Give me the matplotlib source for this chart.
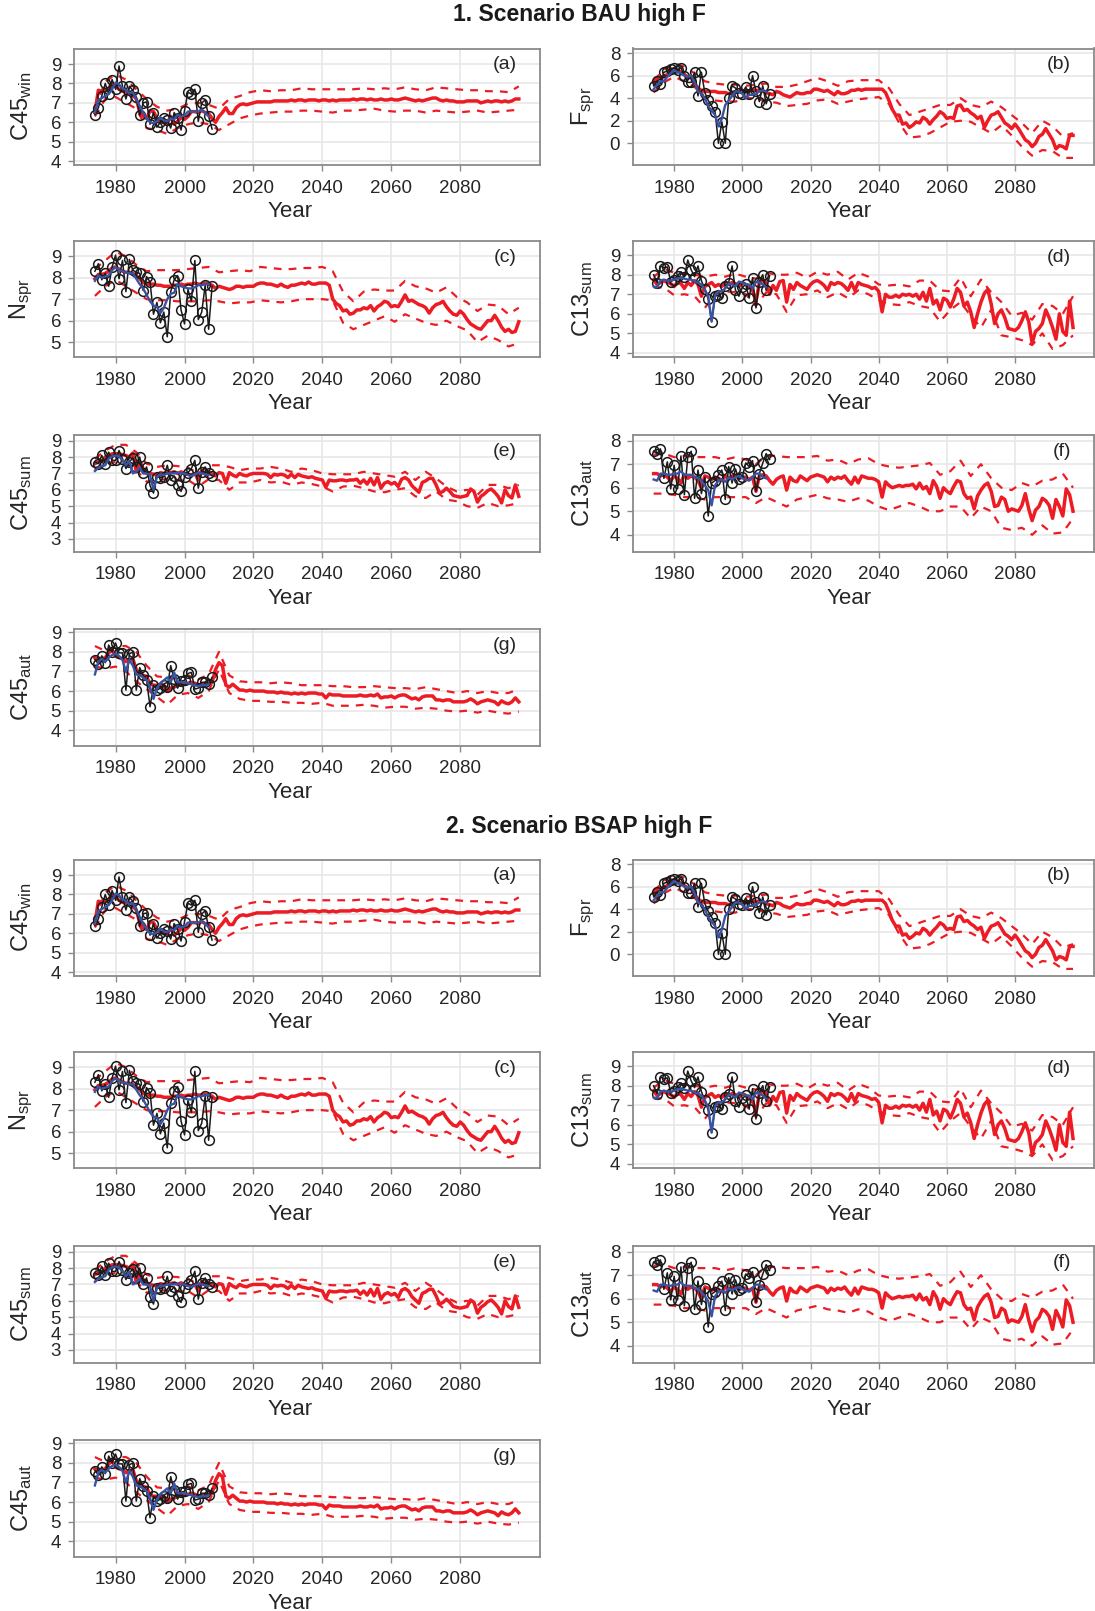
import numpy as np
import matplotlib
matplotlib.use("Agg")
import matplotlib.pyplot as plt

plt.rcParams['font.family'] = ['Liberation Sans', 'DejaVu Sans']
plt.rcParams['mathtext.fontset'] = 'custom'
plt.rcParams['mathtext.rm'] = 'Liberation Sans'
plt.rcParams['mathtext.it'] = 'Liberation Sans:italic'

# ---------------------------------------------------------------- data
FIRST_YEAR = 1974
BAND_STEP = 3
x_ticks = [1980, 2000, 2020, 2040, 2060, 2080]
scenario_titles = ["1. Scenario BAU high F", "2. Scenario BSAP high F"]

# (a) C45 winter
a_obs = [6.4, 6.75, 7.35, 8.0, 7.45, 8.2, 7.7, 8.9, 7.85, 7.2, 7.85, 7.65, 7.3, 6.35, 7.0,
         7.05, 5.9, 6.5, 5.75, 6.0, 6.2, 6.1, 5.7, 6.5, 6.2, 5.6, 6.6, 7.55, 7.45, 7.7,
         6.05, 7.0, 7.15, 6.3, 5.65]
a_fit = [6.5, 7.15, 7.25, 7.35, 7.45, 7.7, 8.05, 7.95, 7.75, 7.65, 7.5, 7.55, 7.2, 6.85,
         6.5, 6.2, 6.0, 5.95, 6.05, 6.25, 6.1, 6.05, 6.2, 6.15, 6.4, 6.3, 6.35, 6.55, 6.55,
         6.55, 6.55, 6.65, 6.5, 6.3]
a_med = [6.5, 7.65, 7.6, 7.65, 7.75, 8.0, 7.85, 7.7, 7.6, 7.55,
         7.5, 7.4, 7.2, 6.55, 6.3, 6.2, 6.6, 6.55, 6.2, 6.05,
         6.0, 5.95, 6.3, 5.9, 6.05, 6.25, 6.15, 6.3, 6.55, 6.55,
         6.5, 6.6, 6.5, 6.45, 6.2, 6.0, 6.3, 6.5, 6.75, 6.45,
         6.45, 6.75, 6.9, 6.95, 6.9, 6.95, 7.0, 7.05, 7.05, 7.05,
         7.05, 7.05, 7.1, 7.1, 7.1, 7.1, 7.1, 7.15, 7.1, 7.15,
         7.15, 7.1, 7.15, 7.15, 7.15, 7.1, 7.15, 7.15, 7.1, 7.15,
         7.1, 7.15, 7.15, 7.15, 7.15, 7.2, 7.15, 7.2, 7.2, 7.15,
         7.2, 7.15, 7.15, 7.2, 7.15, 7.15, 7.2, 7.15, 7.15, 7.2,
         7.25, 7.2, 7.15, 7.1, 7.15, 7.1, 7.15, 7.2, 7.25, 7.25,
         7.15, 7.1, 7.15, 7.1, 7.1, 7.05, 7.05, 7.05, 7.1, 7.1,
         7.1, 7.1, 7.0, 7.05, 7.1, 7.05, 7.1, 7.1, 7.05, 7.1,
         7.05, 7.1, 7.2, 7.2]
a_hi = [6.7, 8.1, 8.45, 8.2, 7.7, 7.2, 6.8, 6.6, 6.7, 6.95, 7.0, 6.9, 6.7, 7.2, 7.35,
        7.55, 7.65, 7.6, 7.65, 7.65, 7.75, 7.7, 7.7, 7.7, 7.7, 7.7, 7.75, 7.7, 7.75, 7.7,
        7.8, 7.7, 7.65, 7.8, 7.75, 7.7, 7.65, 7.65, 7.6, 7.6, 7.55, 7.85]
a_lo = [6.3, 7.2, 7.3, 7.0, 6.7, 5.7, 5.6, 5.4, 5.7, 5.9, 6.0, 5.9, 5.6, 5.9, 6.2, 6.35,
        6.45, 6.5, 6.55, 6.55, 6.6, 6.6, 6.55, 6.5, 6.6, 6.6, 6.65, 6.7, 6.6, 6.55, 6.6,
        6.6, 6.5, 6.6, 6.55, 6.5, 6.55, 6.6, 6.5, 6.55, 6.6, 6.65]

# (b) F spring
b_obs = [5.1, 5.5, 5.3, 6.3, 6.4, 6.6, 6.7, 6.5, 6.7, 6.0, 5.4, 5.4, 6.3, 4.2, 6.3, 4.5,
         3.8, 3.3, 2.8, 0.0, 1.9, 0.0, 4.0, 5.1, 4.9, 4.5, 4.4, 5.0, 4.4, 6.0, 4.6, 3.7,
         5.1, 3.5, 4.4]
b_fit = [4.8, 5.2, 5.5, 5.5, 5.9, 6.2, 6.5, 6.3, 6.2, 6.0, 5.9, 6.0, 5.4, 4.6, 4.4, 4.0,
         3.3, 2.9, 2.5, 1.5, 2.2, 3.4, 3.8, 4.2, 4.6, 4.6, 4.4, 4.0, 4.3, 4.3, 4.4, 4.6,
         4.7, 4.6]
b_med = [5.4, 5.8, 5.8, 5.9, 6.1, 6.4, 6.6, 6.5, 6.3, 6.1,
         5.9, 5.8, 5.3, 4.9, 4.7, 4.6, 4.6, 4.6, 4.6, 4.5,
         4.5, 4.5, 4.4, 4.4, 4.5, 4.6, 4.6, 4.7, 4.6, 4.7,
         4.7, 4.7, 4.6, 4.5, 4.4, 4.3, 4.6, 4.5, 4.3, 4.2,
         4.1, 4.3, 4.5, 4.4, 4.4, 4.5, 4.5, 4.8, 4.8, 4.7,
         4.6, 4.7, 4.5, 4.3, 4.6, 4.4, 4.4, 4.5, 4.7, 4.7,
         4.8, 4.7, 4.8, 4.8, 4.8, 4.8, 4.8, 4.8, 4.5, 3.8,
         3.0, 2.5, 2.5, 1.7, 1.8, 1.4, 1.6, 1.9, 1.8, 2.3,
         2.1, 1.7, 2.1, 2.4, 2.8, 2.6, 2.2, 2.3, 2.2, 3.3,
         3.4, 2.9, 3.0, 2.7, 2.5, 2.2, 2.4, 1.4, 2.0, 2.5,
         2.6, 2.8, 2.3, 1.8, 1.6, 1.3, 1.7, 1.3, 0.8, 0.3,
         0.1, -0.3, 0.0, 0.6, 0.8, 1.3, 0.8, 0.3, -0.5, -0.2,
         -0.3, -0.5, 0.7, 0.7]
b_hi = [5.6, 6.5, 7.1, 6.8, 6.2, 5.5, 5.3, 5.2, 5.2, 5.1, 5.2, 5.3, 5.0, 5.0, 5.2, 5.5,
        5.8, 5.5, 5.1, 5.5, 5.6, 5.6, 5.6, 4.9, 3.5, 2.5, 2.8, 3.1, 3.4, 3.4, 4.0, 3.4,
        3.2, 3.7, 3.2, 2.5, 1.8, 0.9, 2.0, 1.5, 0.6, 0.9]
b_lo = [4.5, 5.4, 5.9, 5.5, 5.0, 4.0, 3.8, 3.7, 3.7, 4.0, 4.0, 3.7, 3.6, 3.3, 3.4, 3.5,
        3.8, 3.9, 3.5, 3.7, 3.9, 4.0, 4.1, 3.5, 1.8, 0.5, 0.6, 0.9, 1.4, 1.9, 2.0, 1.9,
        1.4, 0.9, 1.6, 0.7, -0.3, -1.1, -0.6, -0.7, -1.3, -1.3]

# (c) N spring
c_obs = [8.3, 8.65, 7.9, 8.2, 7.6, 8.5, 9.05, 7.95, 8.8, 7.35, 8.85, 8.35, 8.25, 8.2, 7.4,
         8.05, 7.8, 6.3, 6.85, 5.9, 6.4, 5.25, 7.35, 7.9, 8.1, 6.5, 5.85, 7.45, 6.9, 8.8,
         6.05, 6.4, 7.65, 5.6, 7.6]
c_fit = [7.85, 8.1, 8.0, 8.05, 8.1, 8.35, 8.5, 8.35, 8.3, 8.25, 8.2, 8.2, 7.95, 7.7, 7.5,
         7.2, 6.9, 6.7, 6.65, 6.35, 6.6, 7.0, 7.25, 7.3, 7.7, 7.6, 7.55, 7.5, 7.5, 7.55,
         7.65, 7.65, 7.7, 7.7]
c_med = [7.95, 8.15, 8.15, 8.2, 8.3, 8.45, 8.5, 8.4, 8.3, 8.25,
         8.25, 8.2, 8.1, 7.95, 7.8, 7.7, 7.7, 7.7, 7.65, 7.65,
         7.6, 7.6, 7.6, 7.65, 7.65, 7.7, 7.65, 7.7, 7.7, 7.75,
         7.7, 7.7, 7.75, 7.7, 7.65, 7.5, 7.6, 7.55, 7.5, 7.45,
         7.5, 7.6, 7.6, 7.55, 7.6, 7.6, 7.6, 7.7, 7.75, 7.75,
         7.7, 7.7, 7.65, 7.6, 7.7, 7.6, 7.55, 7.65, 7.65, 7.7,
         7.75, 7.7, 7.8, 7.7, 7.7, 7.75, 7.75, 7.75, 7.65, 7.0,
         6.8, 6.7, 6.45, 6.5, 6.3, 6.35, 6.5, 6.5, 6.6, 6.55,
         6.7, 6.45, 6.65, 6.75, 6.9, 6.85, 6.65, 6.7, 6.65, 6.9,
         7.2, 6.9, 6.95, 6.85, 6.75, 6.7, 6.6, 6.35, 6.6, 6.75,
         6.8, 6.9, 6.65, 6.45, 6.3, 6.25, 6.45, 6.3, 6.05, 5.85,
         5.75, 5.65, 5.6, 5.8, 6.0, 6.0, 6.25, 6.0, 5.7, 5.5,
         5.6, 5.45, 5.5, 5.95]
c_hi = [8.4, 8.8, 9.2, 9.0, 8.6, 8.3, 8.35, 8.35, 8.35, 8.4, 8.45, 8.5, 8.25, 8.3, 8.35,
        8.3, 8.5, 8.45, 8.4, 8.4, 8.45, 8.45, 8.5, 8.3, 7.35, 6.9, 7.35, 7.45, 7.4, 7.4,
        7.85, 7.6, 7.5, 7.3, 7.55, 7.1, 6.85, 6.45, 6.75, 6.7, 6.3, 6.6]
c_lo = [7.15, 7.6, 7.9, 7.6, 7.3, 7.0, 6.95, 6.95, 6.9, 6.9, 6.9, 6.95, 6.9, 6.8, 6.85,
        6.85, 6.95, 6.9, 6.85, 6.9, 7.0, 7.0, 7.0, 6.95, 5.9, 5.6, 5.8, 6.0, 6.2, 5.95,
        6.3, 6.1, 5.9, 5.8, 6.0, 5.75, 5.55, 5.0, 5.3, 5.1, 4.8, 4.95]

# (d) C13 summer
d_obs = [8.0, 7.6, 8.45, 8.35, 8.4, 7.65, 7.75, 7.95, 8.15, 7.9, 8.75, 8.25, 7.9, 8.45,
         7.7, 7.25, 6.75, 5.6, 6.9, 6.95, 6.8, 7.4, 7.6, 8.45, 7.2, 6.9, 7.35, 7.5, 6.8,
         7.85, 6.3, 7.65, 8.0, 7.2, 7.95]
d_fit = [7.4, 7.35, 7.7, 7.75, 7.7, 7.7, 7.75, 7.8, 7.85, 7.8, 7.75, 7.75, 7.65, 7.6, 7.5,
         7.25, 6.9, 5.6, 6.95, 7.15, 7.15, 7.3, 7.55, 7.5, 7.4, 7.65, 7.6, 7.5, 7.5, 7.3,
         7.65, 7.6, 7.5, 7.35]
d_med = [7.75, 7.5, 7.6, 7.7, 7.6, 7.55, 7.4, 7.6, 7.55, 7.3,
         7.6, 7.45, 7.7, 7.5, 6.9, 7.4, 7.5, 7.6, 7.4, 7.5,
         7.4, 7.6, 7.5, 7.6, 7.55, 7.4, 7.6, 7.5, 7.4, 7.2,
         6.6, 7.6, 7.7, 7.6, 7.0, 7.45, 7.2, 7.65, 7.7, 6.6,
         7.5, 7.25, 7.6, 7.45, 7.35, 7.25, 7.5, 7.65, 7.7, 7.6,
         7.45, 7.2, 7.6, 7.5, 7.6, 7.55, 7.4, 7.2, 7.6, 7.2,
         7.6, 7.5, 7.45, 7.4, 7.3, 7.35, 7.15, 6.1, 7.0, 6.85,
         6.85, 6.95, 6.85, 7.0, 6.95, 7.0, 6.9, 7.0, 6.75, 7.1,
         6.65, 7.3, 6.5, 6.7, 6.2, 6.8, 6.7, 6.35, 6.75, 7.3,
         7.1, 6.4, 6.6, 6.1, 5.3, 6.0, 6.6, 7.05, 7.25, 6.5,
         5.5, 6.0, 6.2, 5.8, 5.25, 5.2, 5.15, 5.3, 5.65, 6.1,
         5.6, 4.5, 5.1, 5.25, 5.5, 6.2, 5.8, 5.3, 4.7, 6.0,
         5.1, 4.9, 6.65, 5.3]
d_hi = [7.9, 8.3, 8.1, 8.05, 8.0, 7.9, 8.0, 7.9, 8.05, 7.9, 7.8, 8.1, 8.0, 8.0, 8.1, 7.85,
        8.15, 8.0, 8.15, 7.75, 8.1, 7.9, 7.5, 7.45, 7.5, 7.4, 7.7, 7.7, 7.2, 7.15, 7.85,
        6.9, 7.75, 7.1, 6.6, 5.9, 6.05, 5.7, 6.5, 6.4, 6.0, 6.9]
d_lo = [7.35, 7.35, 6.95, 7.0, 6.9, 6.3, 7.0, 7.15, 7.1, 7.0, 6.4, 7.1, 7.0, 6.1, 6.95,
        7.0, 7.2, 6.85, 7.1, 6.8, 7.2, 7.0, 6.7, 6.5, 6.45, 6.6, 6.4, 6.3, 5.6, 6.2, 6.6,
        5.9, 5.3, 6.2, 4.9, 4.8, 4.65, 4.4, 5.0, 4.2, 4.4, 4.9]

# (e) C45 summer
e_obs = [7.7, 7.6, 8.1, 7.6, 8.3, 7.8, 7.8, 8.4, 7.9, 7.3, 7.7, 7.95, 7.4, 8.0, 7.0, 7.4,
         6.25, 5.8, 6.8, 6.75, 6.8, 7.5, 6.6, 6.85, 6.3, 5.9, 6.8, 7.05, 7.3, 7.8, 6.1,
         7.1, 7.4, 7.0, 6.85]
e_fit = [7.15, 7.35, 7.45, 7.5, 7.9, 8.05, 8.1, 8.05, 7.8, 7.5, 7.75, 7.0, 7.1, 7.35, 7.0,
         7.0, 6.9, 6.0, 6.8, 6.95, 6.9, 7.0, 7.0, 7.0, 7.05, 7.0, 7.0, 6.9, 6.85, 6.95,
         7.05, 7.0, 6.95, 6.9]
e_med = [7.6, 7.7, 7.75, 8.0, 8.1, 8.2, 8.2, 8.2, 8.15, 8.1,
         8.0, 8.25, 7.1, 7.75, 7.3, 7.0, 7.0, 6.95, 6.9, 7.05,
         7.0, 7.1, 7.05, 7.1, 7.0, 7.1, 7.0, 6.95, 6.9, 7.0,
         6.6, 7.15, 7.0, 7.1, 6.95, 6.85, 7.05, 7.0, 6.4, 7.05,
         6.9, 6.8, 7.0, 6.9, 6.85, 6.95, 7.0, 7.0, 7.0, 7.0,
         6.95, 6.75, 6.95, 6.9, 6.95, 6.9, 6.75, 6.95, 6.75, 6.95,
         6.85, 6.8, 6.75, 6.8, 6.7, 6.65, 6.6, 6.15, 6.6, 6.55,
         6.55, 6.6, 6.6, 6.55, 6.6, 6.6, 6.65, 6.4, 6.6, 6.35,
         6.7, 6.3, 6.75, 6.1, 6.4, 6.5, 6.35, 6.45, 6.2, 6.65,
         6.75, 6.6, 6.25, 6.05, 5.85, 6.45, 6.55, 6.7, 6.7, 6.3,
         5.8, 5.9, 6.1, 5.9, 5.65, 5.6, 5.55, 5.6, 5.65, 6.05,
         5.9, 5.25, 5.6, 5.75, 5.95, 6.05, 5.85, 5.6, 5.2, 6.0,
         5.65, 5.5, 6.3, 5.6]
e_hi = [7.9, 8.4, 8.75, 8.75, 8.3, 7.6, 7.4, 7.5, 7.45, 7.35, 7.0, 7.5, 7.5, 7.4, 7.2,
        7.3, 7.3, 7.4, 7.3, 7.1, 7.3, 7.2, 7.0, 6.95, 6.95, 6.95, 7.1, 7.0, 6.9, 6.8, 7.1,
        6.6, 7.1, 6.7, 6.2, 5.9, 6.0, 5.7, 6.3, 6.3, 6.1, 6.3]
e_lo = [7.2, 7.6, 7.7, 7.6, 7.2, 6.5, 6.6, 6.65, 6.6, 6.6, 6.2, 6.65, 6.6, 6.0, 6.45,
        6.45, 6.6, 6.45, 6.5, 6.3, 6.45, 6.35, 6.2, 5.9, 6.2, 6.25, 6.1, 5.9, 5.85, 6.0,
        6.1, 5.6, 5.5, 5.9, 5.4, 5.3, 5.0, 4.9, 5.2, 5.0, 5.05, 5.2]

# (f) C13 autumn
f_obs = [7.55, 7.45, 7.65, 6.4, 7.1, 5.95, 6.95, 5.95, 7.35, 5.7, 7.3, 7.55, 5.55, 6.75,
         5.75, 6.45, 4.8, 6.2, 6.3, 6.55, 6.75, 5.5, 6.9, 6.2, 6.8, 6.35, 6.45, 7.05, 6.9,
         7.15, 5.85, 6.6, 7.05, 7.45, 7.2]
f_fit = [6.35, 6.3, 6.6, 6.6, 6.55, 6.55, 6.6, 6.6, 6.7, 6.55, 6.55, 6.55, 6.45, 6.4, 6.3,
         6.1, 5.9, 5.25, 6.1, 6.3, 6.35, 6.25, 6.45, 6.35, 6.45, 6.5, 6.4, 6.35, 6.3, 6.45,
         6.6, 6.6, 6.45, 6.4]
f_med = [6.6, 6.6, 6.5, 6.55, 6.45, 6.3, 6.5, 6.4, 6.2, 6.55,
         6.4, 6.5, 6.45, 6.3, 6.0, 6.5, 6.45, 6.35, 6.45, 6.4,
         6.3, 6.5, 6.4, 6.5, 6.5, 6.4, 6.45, 6.45, 6.35, 6.45,
         5.85, 6.5, 6.55, 6.5, 6.3, 6.15, 6.35, 6.45, 6.5, 5.9,
         6.45, 6.3, 6.25, 6.5, 6.4, 6.3, 6.45, 6.5, 6.55, 6.5,
         6.45, 6.25, 6.45, 6.35, 6.45, 6.4, 6.5, 6.3, 6.15, 6.45,
         6.2, 6.5, 6.45, 6.4, 6.4, 6.35, 6.25, 5.6, 6.25, 6.1,
         6.0, 6.05, 6.1, 6.05, 6.1, 6.1, 6.15, 5.95, 6.2, 5.95,
         6.05, 5.75, 6.3, 6.05, 5.55, 6.0, 5.85, 5.75, 6.05, 6.3,
         6.25, 5.75, 5.55, 5.6, 5.1, 5.65, 5.9, 6.1, 6.2, 5.85,
         5.2, 5.25, 5.6, 5.5, 5.0, 5.1, 5.05, 5.0, 5.25, 5.75,
         5.1, 4.6, 5.05, 5.2, 5.55, 5.45, 5.25, 4.7, 5.5, 5.2,
         4.8, 5.95, 5.7, 5.0]
f_hi = [7.4, 7.45, 7.3, 7.35, 7.3, 7.3, 7.3, 7.2, 7.3, 7.2, 7.0, 7.35, 7.35, 7.3, 7.3,
        7.3, 7.35, 7.15, 7.2, 7.0, 7.2, 7.25, 7.0, 6.9, 6.85, 6.9, 6.95, 7.05, 6.55, 6.7,
        7.15, 6.5, 7.0, 6.4, 6.0, 5.9, 6.2, 6.05, 6.3, 6.35, 6.6, 6.0]
f_lo = [5.75, 5.75, 5.7, 5.6, 5.6, 5.5, 5.6, 5.6, 5.6, 5.6, 5.35, 5.6, 5.4, 5.2, 5.5,
        5.6, 5.7, 5.55, 5.5, 5.4, 5.55, 5.45, 5.2, 5.05, 5.2, 5.35, 5.2, 5.0, 5.0, 5.2,
        5.2, 4.7, 5.2, 5.0, 4.3, 4.2, 4.3, 4.0, 4.4, 4.05, 4.1, 4.7]

# (g) C45 autumn
g_obs = [7.6, 7.4, 7.8, 7.45, 8.35, 8.0, 8.45, 7.95, 7.95, 6.05, 7.9, 8.0, 6.05, 7.2, 6.8,
         6.55, 5.2, 6.3, 6.05, 6.15, 6.3, 6.2, 7.3, 6.6, 6.15, 6.5, 6.55, 6.9, 6.95, 6.1,
         6.15, 6.45, 6.45, 6.35, 6.7]
g_fit = [6.85, 7.5, 7.65, 7.5, 7.7, 7.85, 7.9, 7.8, 7.6, 7.0, 7.6, 7.3, 6.85, 6.8, 6.7,
         6.55, 6.2, 5.6, 6.15, 6.4, 6.55, 6.7, 6.45, 6.95, 6.45, 6.45, 6.45, 6.4, 6.35,
         6.3, 6.25, 6.3, 6.3, 6.35]
g_med = [7.7, 7.6, 7.65, 7.7, 7.95, 8.1, 7.8, 7.7, 7.65, 7.5,
         7.6, 7.65, 7.1, 6.9, 6.8, 6.75, 6.35, 6.3, 6.3, 6.25,
         6.3, 6.0, 6.15, 6.2, 6.3, 6.35, 6.4, 6.4, 6.45, 6.4,
         6.3, 6.35, 6.35, 6.4, 6.45, 7.1, 7.45, 7.3, 6.3, 6.2,
         6.35, 6.2, 6.05, 6.05, 6.0, 6.05, 6.0, 6.0, 6.0, 6.0,
         5.95, 5.95, 5.95, 5.9, 5.95, 5.9, 5.9, 5.85, 5.9, 5.85,
         5.9, 5.85, 5.9, 5.9, 5.9, 5.85, 5.85, 5.65, 5.85, 5.8,
         5.8, 5.8, 5.75, 5.75, 5.75, 5.75, 5.75, 5.8, 5.75, 5.75,
         5.8, 5.75, 5.85, 5.65, 5.7, 5.7, 5.75, 5.65, 5.75, 5.8,
         5.8, 5.7, 5.6, 5.65, 5.55, 5.7, 5.75, 5.75, 5.75, 5.55,
         5.55, 5.5, 5.55, 5.55, 5.45, 5.45, 5.45, 5.45, 5.5, 5.6,
         5.5, 5.35, 5.45, 5.5, 5.55, 5.5, 5.45, 5.3, 5.5, 5.4,
         5.35, 5.45, 5.65, 5.45]
g_hi = [8.3, 8.05, 8.3, 8.3, 8.0, 7.3, 6.75, 6.7, 6.65, 6.8, 6.6, 6.85, 8.0, 6.8, 6.5,
        6.45, 6.45, 6.4, 6.45, 6.4, 6.3, 6.3, 6.3, 6.25, 6.25, 6.2, 6.2, 6.25, 6.2, 6.15,
        6.15, 6.1, 6.2, 6.1, 6.0, 5.9, 6.0, 5.9, 6.0, 5.9, 5.9, 6.1]
g_lo = [7.25, 7.15, 7.25, 7.0, 6.5, 6.1, 5.7, 5.3, 5.8, 5.9, 5.65, 6.0, 7.1, 5.9, 5.6,
        5.5, 5.5, 5.45, 5.45, 5.4, 5.4, 5.35, 5.4, 5.25, 5.25, 5.25, 5.3, 5.25, 5.15, 5.2,
        5.2, 5.1, 5.15, 5.1, 5.0, 4.95, 5.0, 4.9, 5.0, 4.9, 4.85, 4.95]

# ---------------------------------------------------------------- panels
panels = [
    dict(tag="(a)", label=r"C45$_{\mathrm{win}}$", obs=a_obs, fit=a_fit, med=a_med, hi=a_hi, lo=a_lo,
         ylim=(3.8, 9.8), yticks=[4, 5, 6, 7, 8, 9], col=0, row=0),
    dict(tag="(b)", label=r"F$_{\mathrm{spr}}$", obs=b_obs, fit=b_fit, med=b_med, hi=b_hi, lo=b_lo,
         ylim=(-1.93, 8.41), yticks=[0, 2, 4, 6, 8], col=1, row=0),
    dict(tag="(c)", label=r"N$_{\mathrm{spr}}$", obs=c_obs, fit=c_fit, med=c_med, hi=c_hi, lo=c_lo,
         ylim=(4.3, 9.72), yticks=[5, 6, 7, 8, 9], col=0, row=1),
    dict(tag="(d)", label=r"C13$_{\mathrm{sum}}$", obs=d_obs, fit=d_fit, med=d_med, hi=d_hi, lo=d_lo,
         ylim=(3.78, 9.74), yticks=[4, 5, 6, 7, 8, 9], col=1, row=1),
    dict(tag="(e)", label=r"C45$_{\mathrm{sum}}$", obs=e_obs, fit=e_fit, med=e_med, hi=e_hi, lo=e_lo,
         ylim=(2.23, 9.35), yticks=[3, 4, 5, 6, 7, 8, 9], col=0, row=2),
    dict(tag="(f)", label=r"C13$_{\mathrm{aut}}$", obs=f_obs, fit=f_fit, med=f_med, hi=f_hi, lo=f_lo,
         ylim=(3.29, 8.24), yticks=[4, 5, 6, 7, 8], col=1, row=2),
    dict(tag="(g)", label=r"C45$_{\mathrm{aut}}$", obs=g_obs, fit=g_fit, med=g_med, hi=g_hi, lo=g_lo,
         ylim=(3.22, 9.17), yticks=[4, 5, 6, 7, 8, 9], col=0, row=3),
]

# ---------------------------------------------------------------- layout (pixels)
W, H = 1095, 1611
col_left = [73.7, 632.7]
col_width = [466.3, 461.3]
row_top = [48.5, 240.7, 435.0, 629.0]
row_height = 116.5
block_offset = 811.0
title_y = 15.0
title_x = 579.0
ylabel_x = [-0.112, -0.108]
xlabel_x = [0.463, 0.468]

RED = "#ED1C24"
BLUE = "#3953A4"
GRID = "#E6E6E6"
FRAME = "#8A8A8A"
TXT = "#262626"


def years(values):
    return np.arange(FIRST_YEAR, FIRST_YEAR + len(values))


def band_years(values):
    return np.arange(FIRST_YEAR, FIRST_YEAR + BAND_STEP * len(values), BAND_STEP)


fig = plt.figure(figsize=(W / 100, H / 100), dpi=100)

for block, title in enumerate(scenario_titles):
    off = block * block_offset
    fig.text(title_x / W, 1 - (title_y + off) / H, title, ha="center", va="center",
             fontsize=16.5, fontweight="bold", color="#1a1a1a")
    for p in panels:
        top = row_top[p["row"]] + off
        rect = [col_left[p["col"]] / W, 1 - (top + row_height) / H,
                col_width[p["col"]] / W, row_height / H]
        ax = fig.add_axes(rect)
        ax.set_xlim(1967.85, 2103.15)
        ax.set_ylim(*p["ylim"])
        ax.set_xticks(x_ticks)
        ax.set_yticks(p["yticks"])
        ax.grid(True, color=GRID, lw=1.1, zorder=0)
        ax.set_axisbelow(True)
        for s in ax.spines.values():
            s.set_color(FRAME)
            s.set_linewidth(1.3)
        ax.tick_params(axis="both", colors=FRAME, labelcolor=TXT, labelsize=13.5,
                       length=4, width=1.0)
        ax.tick_params(axis="x", pad=6.5)
        ax.tick_params(axis="y", pad=5)

        # simulation bands and median
        for band in (p["hi"], p["lo"]):
            ln, = ax.plot(band_years(band), band, color=RED, lw=1.6, zorder=2)
            ln.set_dashes([3.5, 3.2])
        ax.plot(years(p["med"]), p["med"], color=RED, lw=2.5, zorder=3)

        # observations and fitted states
        ax.plot(years(p["obs"]), p["obs"], color="#1a1a1a", lw=1.1, marker="o", ms=7,
                mfc="none", mec="#1a1a1a", mew=1.1, zorder=4)
        ax.plot(years(p["fit"]), p["fit"], color=BLUE, lw=1.7, zorder=5)

        ax.text(0.95, 0.86, p["tag"], transform=ax.transAxes, ha="right", va="center",
                fontsize=14, color=TXT)
        ax.set_xlabel("Year", fontsize=16, color=TXT, va="center")
        ax.xaxis.set_label_coords(xlabel_x[p["col"]], -0.40)
        ax.set_ylabel(p["label"], fontsize=17, color=TXT, va="center")
        ax.yaxis.set_label_coords(ylabel_x[p["col"]], 0.5)

fig.savefig("out.png", dpi=100)
